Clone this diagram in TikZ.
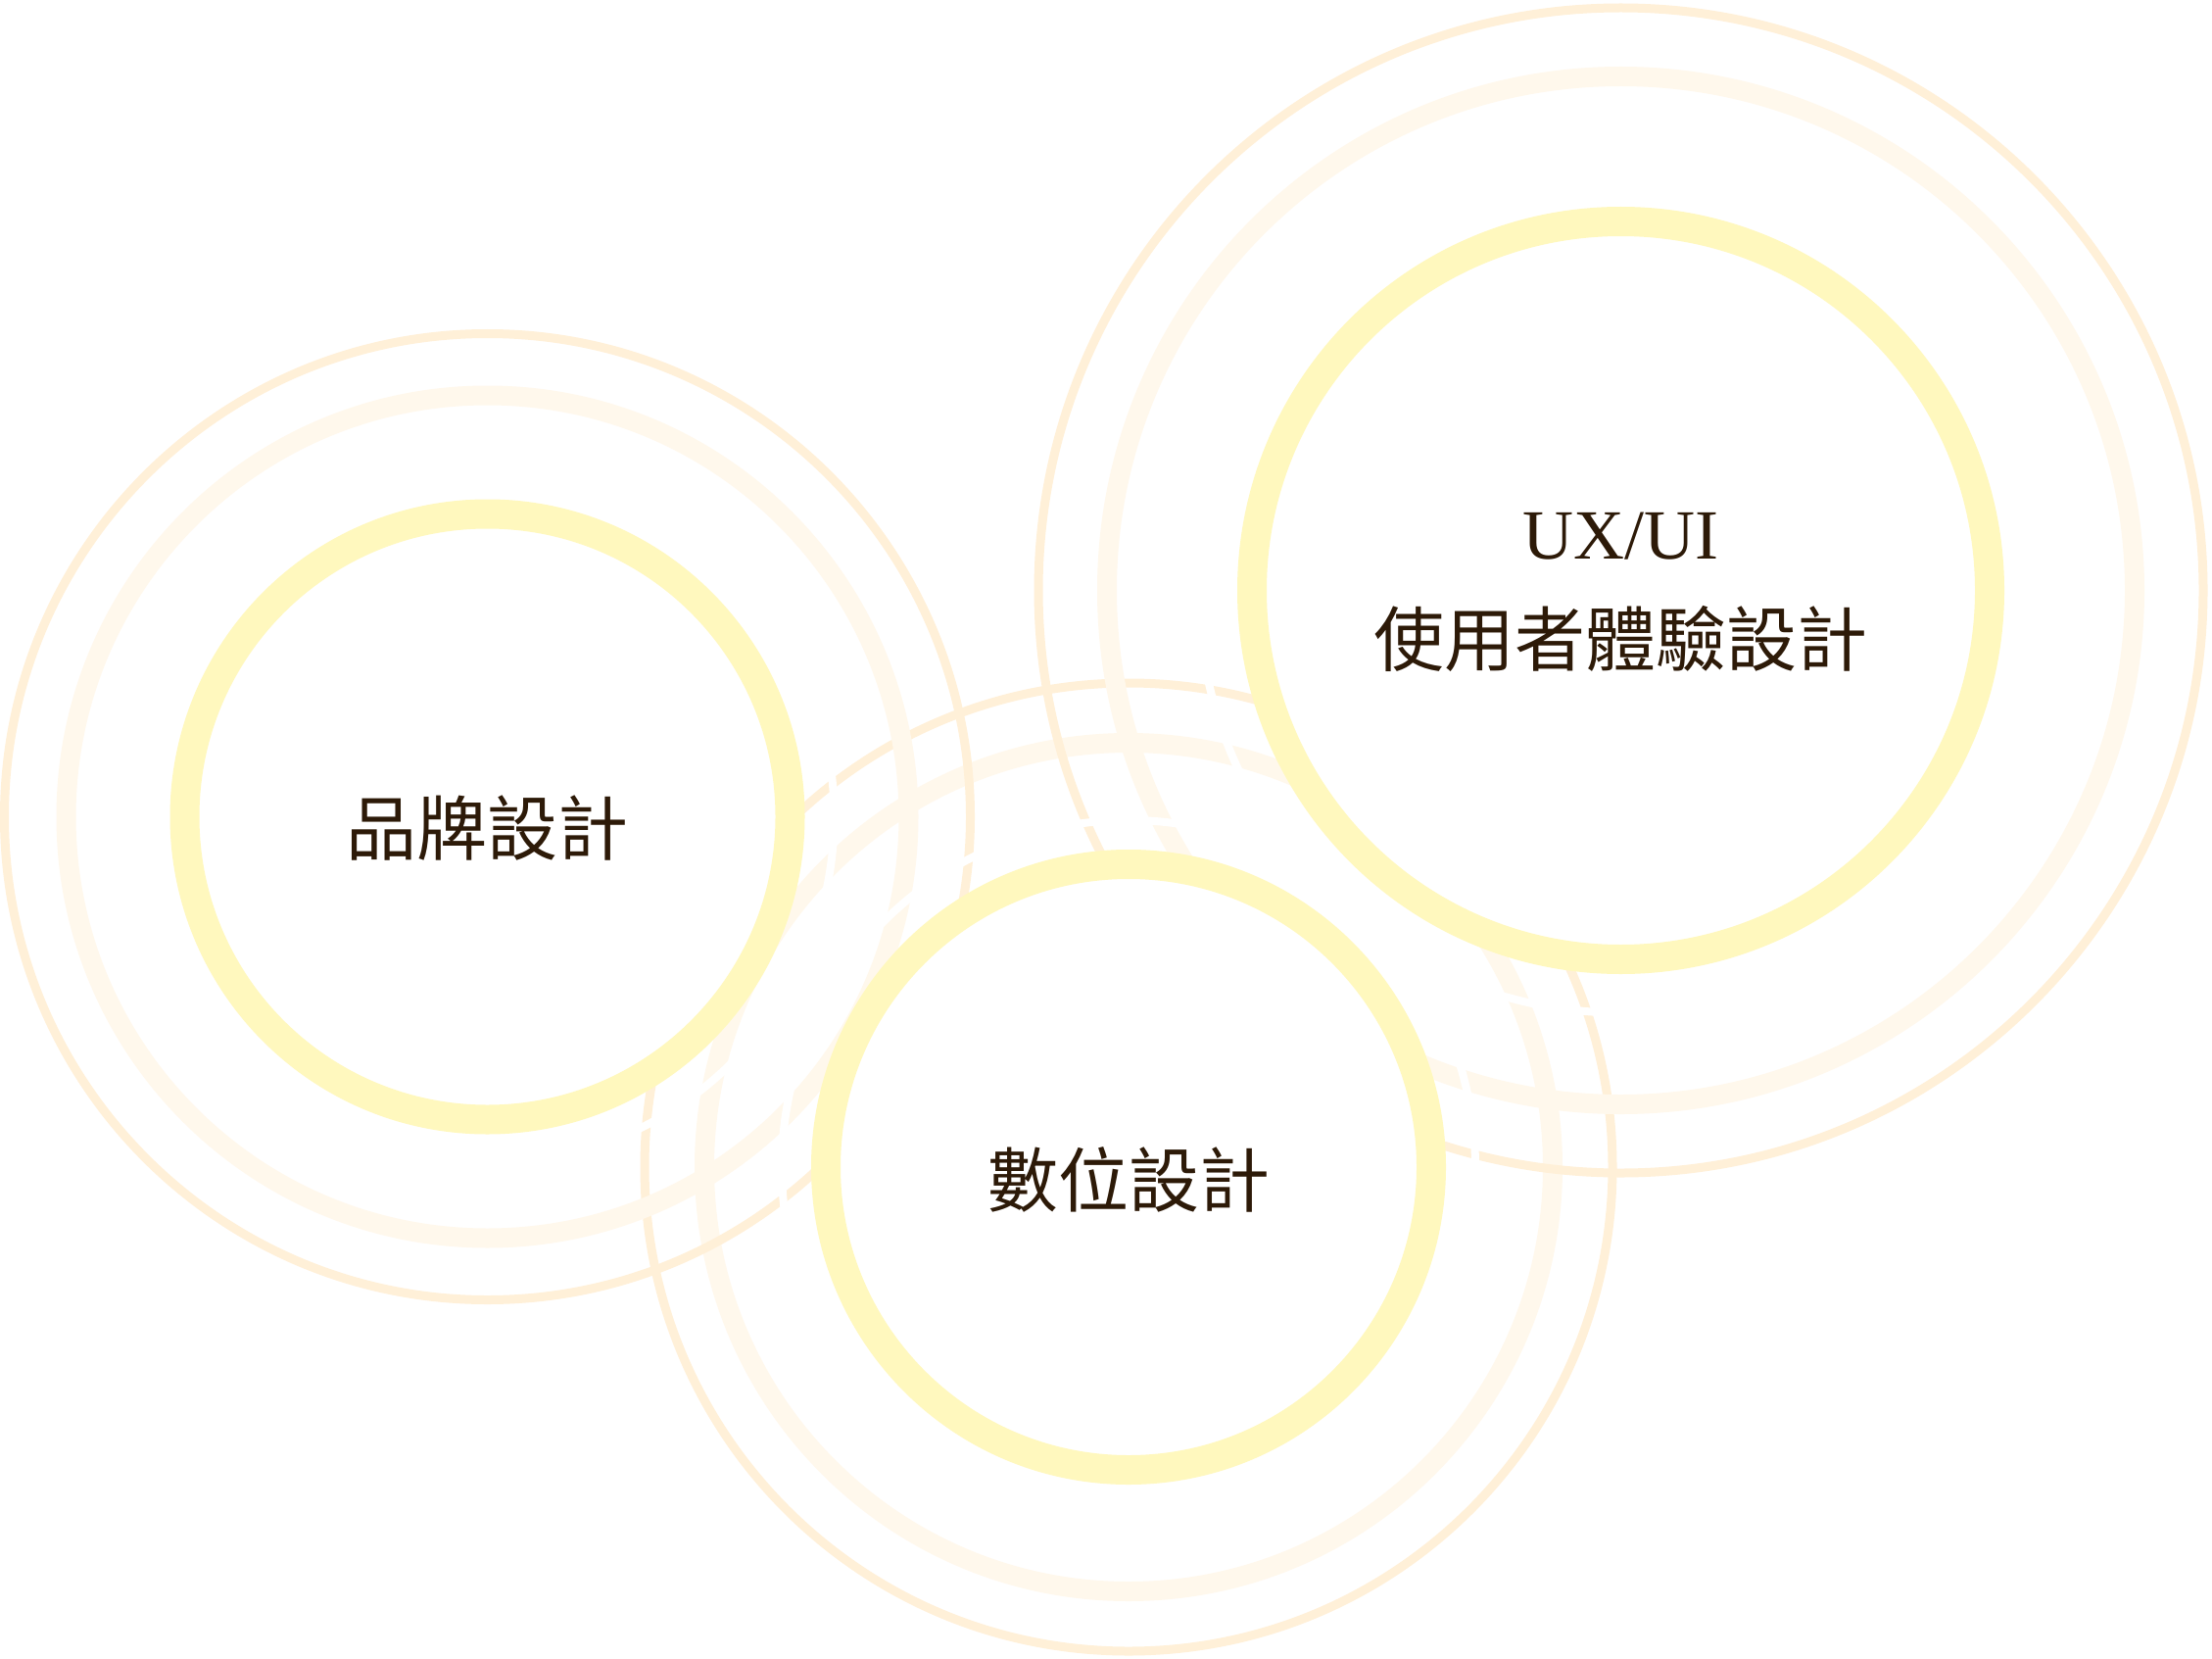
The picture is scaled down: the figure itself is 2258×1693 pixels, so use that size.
\documentclass[tikz,border=0pt]{standalone}
\usepackage{fontspec}
\setmainfont{Liberation Serif}
\newfontfamily\cjk{Noto Sans CJK TC}
\definecolor{thickc}{HTML}{FFF8BE}
\definecolor{midc}{HTML}{FFF8EC}
\definecolor{thinc}{HTML}{FFF0D8}
\definecolor{txtc}{HTML}{2D1A08}
\tikzset{
  thinring/.style={draw=thinc,line width=9pt},
  midring/.style={draw=midc,line width=20pt},
  cutring/.style={draw=white,line width=8pt},
  thickring/.style={draw=thickc,fill=white,line width=30pt},
  lbl/.style={text=txtc,inner sep=0pt},
}
\begin{document}
\begin{tikzpicture}[x=1pt,y=-1pt]
\useasboundingbox (0,0) rectangle (2258,1693);
\fill[white] (0,0) rectangle (2258,1693);
\coordinate (bc) at (497.5,833.5);
\coordinate (dc) at (1152,1191);
\coordinate (uc) at (1654.5,602.5);
% outer rings
\draw[midring] (dc) circle[radius=433];
\draw[thinring] (dc) circle[radius=494];
\draw[midring] (bc) circle[radius=430];
\draw[thinring] (bc) circle[radius=493];
\draw[midring] (uc) circle[radius=524.5];
\draw[thinring] (uc) circle[radius=594.5];
% white cut rings
\draw[cutring] (bc) circle[radius=354];
\draw[cutring] (dc) circle[radius=354];
\draw[cutring] (uc) circle[radius=431];
% main rings
\draw[thickring] (bc) circle[radius=309];
\draw[thickring] (dc) circle[radius=309];
\draw[thickring] (uc) circle[radius=376.5];
% labels
\node[lbl,font=\cjk\fontsize{72}{86}\selectfont] (brand) at (497.5,845) {品牌設計};
\node[lbl,font=\cjk\fontsize{72}{86}\selectfont] (digital) at (1152,1204) {數位設計};
\node[lbl,font=\fontsize{72}{86}\selectfont] (uxa) at (1654.5,547) {UX/UI};
\node[lbl,font=\cjk\fontsize{72}{86}\selectfont] (uxb) at (1654.5,652) {使用者體驗設計};
\end{tikzpicture}
\end{document}
